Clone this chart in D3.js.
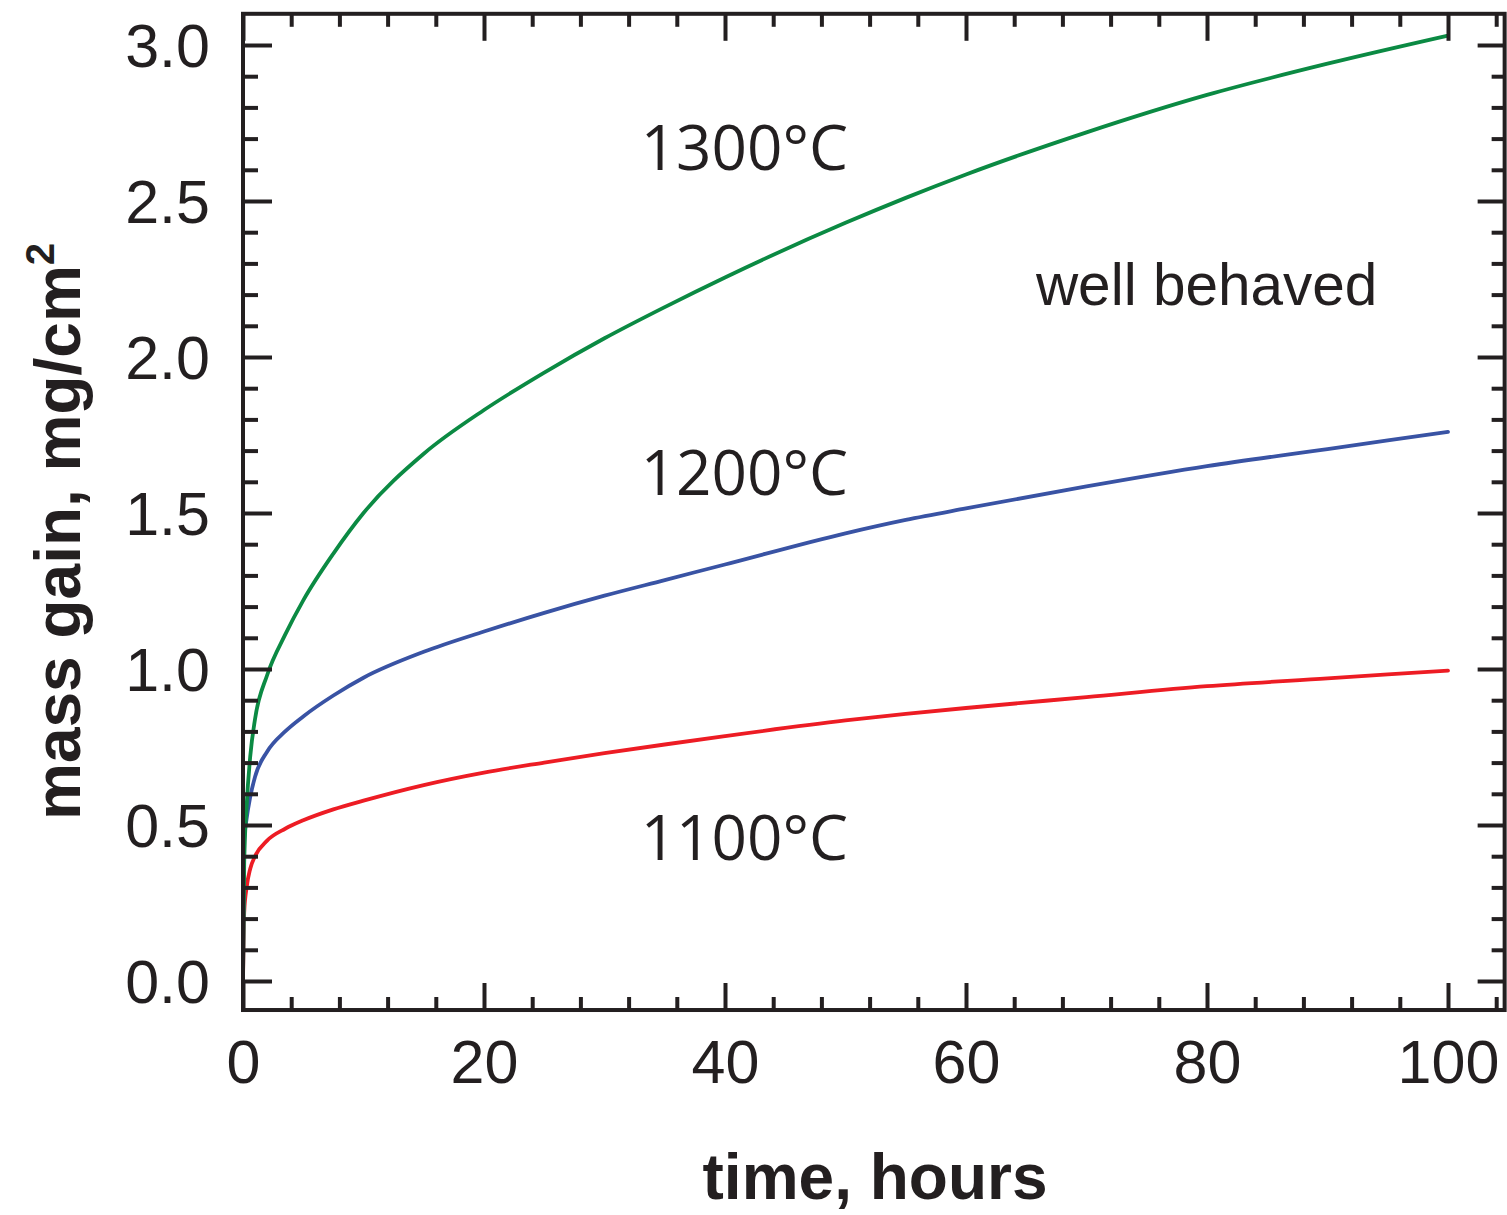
<!DOCTYPE html>
<html>
<head>
<meta charset="utf-8">
<script src="https://cdn.jsdelivr.net/npm/d3@7"></script>
<style>
  body { margin: 0; background: #fff; }
  svg { display: block; }
</style>
</head>
<body>
<div id="graph"></div>
<script>
// hours of exposure
const hours = [0, 0.1, 0.3, 0.6, 1, 2, 3.5, 5, 7.5, 10, 15, 20, 25, 30, 35, 40, 50, 55, 60, 70, 80, 90, 100];

// mass gain, mg/cm2
const gain1100 = [0, 0.22, 0.30, 0.36, 0.40, 0.45, 0.488, 0.515, 0.55, 0.578, 0.628, 0.668, 0.70, 0.73, 0.758, 0.785,
  0.835, 0.856, 0.875, 0.91, 0.945, 0.97, 0.995];
const gain1200 = [0, 0.45, 0.52, 0.59, 0.655, 0.735, 0.80, 0.848, 0.915, 0.972, 1.055, 1.12, 1.18, 1.235, 1.285, 1.335,
  1.435, 1.478, 1.515, 1.585, 1.65, 1.705, 1.76];
const gain1300 = [0, 0.38, 0.56, 0.72, 0.84, 0.98, 1.11, 1.22, 1.37, 1.50, 1.69, 1.83, 1.95, 2.06, 2.16, 2.255,
  2.43, 2.51, 2.585, 2.72, 2.84, 2.94, 3.03];

const seriesNames = ['1100°C', '1200°C', '1300°C'];
const seriesColors = ['#ed1c24', '#3953a4', '#0b8a43'];

const xTicks = [0, 20, 40, 60, 80, 100];
const xMinorTicks = [4, 8, 12, 16, 24, 28, 32, 36, 44, 48, 52, 56, 64, 68, 72, 76, 84, 88, 92, 96, 104];
const yTicks = [0, 0.5, 1.0, 1.5, 2.0, 2.5, 3.0];
const yMinorTicks = [0.1, 0.2, 0.3, 0.4, 0.6, 0.7, 0.8, 0.9, 1.1, 1.2, 1.3, 1.4, 1.6, 1.7, 1.8, 1.9,
  2.1, 2.2, 2.3, 2.4, 2.6, 2.7, 2.8, 2.9];

const xLabel = 'time, hours';
const yLabel = 'mass gain, mg/cm';
const note = 'well behaved';

const width = 1507, height = 1215;
const ink = '#231f20';

let xScale = d3.scaleLinear().domain([0, 100]).range([243, 1448]);
let yScale = d3.scaleLinear().domain([0, 3]).range([981, 45]);

const xMin = 0, xMax = 104.7, yMin = -0.093, yMax = 3.1;

let svg = d3.select('#graph').append('svg')
  .attr('width', width)
  .attr('height', height);

svg.append('rect')
  .attr('width', width)
  .attr('height', height)
  .attr('fill', '#fff');

let plotLeft = xScale(xMin), plotRight = xScale(xMax), plotTop = yScale(yMax), plotBottom = yScale(yMin);

// curves
let line = d3.line()
  .x((d) => xScale(d[0]))
  .y((d) => yScale(d[1]))
  .curve(d3.curveMonotoneX);

[gain1100, gain1200, gain1300].forEach((vals, i) => {
  svg.append('path')
    .datum(hours.map((h, j) => [h, vals[j]]))
    .attr('fill', 'none')
    .attr('stroke', seriesColors[i])
    .attr('stroke-width', 3.8)
    .attr('stroke-linecap', 'round')
    .attr('d', line);
});

// axes
function styleAxis(g) {
  g.select('.domain').remove();
  g.selectAll('.tick line').attr('stroke', ink).attr('stroke-width', 4);
  g.selectAll('.tick text')
    .attr('fill', ink)
    .attr('font-family', '"Liberation Sans", Arial, sans-serif')
    .attr('font-size', 61);
}

svg.append('g')
  .attr('transform', 'translate(0,' + plotBottom + ')')
  .call(d3.axisBottom(xScale).tickValues(xTicks).tickSize(-27).tickPadding(30).tickFormat((d) => d))
  .call(styleAxis);
svg.append('g')
  .attr('transform', 'translate(0,' + plotBottom + ')')
  .call(d3.axisBottom(xScale).tickValues(xMinorTicks).tickSize(-13).tickFormat(''))
  .call(styleAxis);
svg.append('g')
  .attr('transform', 'translate(0,' + plotTop + ')')
  .call(d3.axisTop(xScale).tickValues(xTicks).tickSize(-27).tickFormat(''))
  .call(styleAxis);
svg.append('g')
  .attr('transform', 'translate(0,' + plotTop + ')')
  .call(d3.axisTop(xScale).tickValues(xMinorTicks).tickSize(-13).tickFormat(''))
  .call(styleAxis);

svg.append('g')
  .attr('transform', 'translate(' + plotLeft + ',0)')
  .call(d3.axisLeft(yScale).tickValues(yTicks).tickSize(-29).tickPadding(33).tickFormat(d3.format('.1f')))
  .call(styleAxis)
  .selectAll('.tick text').attr('dy', '0.36em');
svg.append('g')
  .attr('transform', 'translate(' + plotLeft + ',0)')
  .call(d3.axisLeft(yScale).tickValues(yMinorTicks).tickSize(-15).tickFormat(''))
  .call(styleAxis);
svg.append('g')
  .attr('transform', 'translate(' + plotRight + ',0)')
  .call(d3.axisRight(yScale).tickValues(yTicks).tickSize(-27).tickFormat(''))
  .call(styleAxis);
svg.append('g')
  .attr('transform', 'translate(' + plotRight + ',0)')
  .call(d3.axisRight(yScale).tickValues(yMinorTicks).tickSize(-13).tickFormat(''))
  .call(styleAxis);

// frame
svg.append('rect')
  .attr('x', plotLeft)
  .attr('y', plotTop)
  .attr('width', plotRight - plotLeft)
  .attr('height', plotBottom - plotTop)
  .attr('fill', 'none')
  .attr('stroke', ink)
  .attr('stroke-width', 4);

// axis titles
svg.append('text')
  .attr('x', 875)
  .attr('y', 1199)
  .attr('text-anchor', 'middle')
  .attr('font-family', '"Liberation Sans", Arial, sans-serif')
  .attr('font-weight', 'bold')
  .attr('font-size', 64)
  .attr('fill', ink)
  .text(xLabel);

let yt = svg.append('text')
  .attr('transform', 'translate(80,820) rotate(-90)')
  .attr('text-anchor', 'start')
  .attr('font-family', '"Liberation Sans", Arial, sans-serif')
  .attr('font-weight', 'bold')
  .attr('font-size', 64)
  .attr('fill', ink);
yt.append('tspan').text(yLabel);
yt.append('tspan').attr('dy', -26).attr('font-size', 40).text('2');

// series labels
const labelPos = [[33.0, 0.388], [33.0, 1.558], [33.0, 2.60]];
seriesNames.forEach((name, i) => {
  svg.append('text')
    .attr('x', xScale(labelPos[i][0]))
    .attr('y', yScale(labelPos[i][1]))
    .attr('font-family', '"Open Sans", sans-serif')
    .attr('font-size', 62)
    .attr('fill', ink)
    .text(name);
});

svg.append('text')
  .attr('x', xScale(65.8))
  .attr('y', yScale(2.167))
  .attr('font-family', '"Liberation Sans", Arial, sans-serif')
  .attr('font-size', 58.5)
  .attr('fill', ink)
  .text(note);
</script>
</body>
</html>
